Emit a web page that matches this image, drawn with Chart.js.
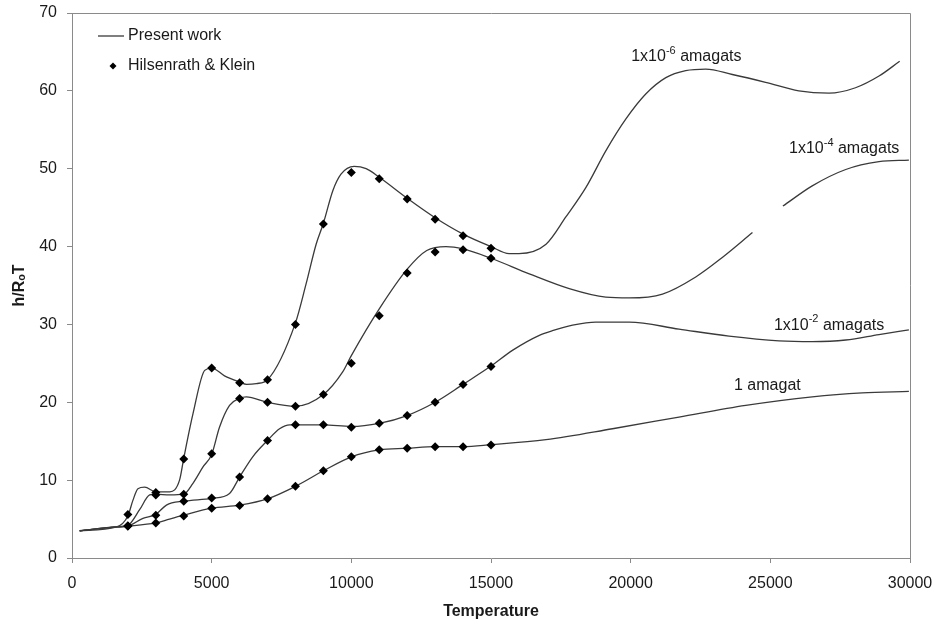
<!DOCTYPE html>
<html>
<head>
<meta charset="utf-8">
<title>h/RoT vs Temperature</title>
<script src="https://cdn.jsdelivr.net/npm/chart.js@4.4.1/dist/chart.umd.min.js"></script>
<style>
  html, body { margin: 0; padding: 0; background: #fff; }
  #chart { display: block; }
</style>
</head>
<body>
<canvas id="chart" width="938" height="625"></canvas>
<script>
// ---------------------------------------------------------
// h/RoT vs temperature – present work vs Hilsenrath & Klein
// ---------------------------------------------------------

const FONT = "'Liberation Sans', Arial, sans-serif";
const LINE_COLOR = "#3a3a3a";
const AXIS_COLOR = "#8a8a8a";
const TEXT_COLOR = "#1a1a1a";

// Hilsenrath & Klein table points (same temperatures for every density)
const hkTemps = [2000, 3000, 4000, 5000, 6000, 7000, 8000, 9000, 10000, 11000, 12000, 13000, 14000, 15000];
const hk1e6 = [5.6, 8.4, 12.7, 24.4, 22.5, 22.9, 30.0, 42.9, 49.5, 48.7, 46.1, 43.5, 41.4, 39.8];
const hk1e4 = [4.1, 8.1, 8.2, 13.4, 20.5, 20.0, 19.5, 21.0, 25.0, 31.1, 36.6, 39.3, 39.6, 38.5];
const hk1e2 = [4.1, 5.5, 7.3, 7.7, 10.4, 15.1, 17.1, 17.1, 16.8, 17.3, 18.3, 20.0, 22.3, 24.6];
const hk1 = [4.1, 4.5, 5.4, 6.4, 6.75, 7.6, 9.2, 11.2, 13.0, 13.9, 14.1, 14.3, 14.3, 14.5];

// Present work curves
const pw1e6T = [275, 1600, 2000, 2180, 2360, 2600, 3000, 3500, 3850, 4000, 4330, 4750, 5000, 5460, 6000, 6250, 6600, 7000, 8000, 8380, 8740, 9000, 9340, 9630, 10100, 10530, 11000, 12000, 13000, 14000, 15000, 15650, 16000, 16970, 17680, 18400, 19110, 19830, 20540, 21260, 21970, 22690, 23640, 24830, 26020, 27100, 28050, 28890, 29630];
const pw1e6V = [3.5, 4.0, 5.4, 7.4, 8.9, 9.1, 8.5, 8.5, 10.0, 12.8, 18.5, 24.1, 24.4, 23.4, 22.6, 22.3, 22.4, 22.9, 30.2, 35.2, 40.3, 43.0, 47.2, 49.3, 50.3, 50.0, 48.9, 46.2, 43.7, 41.6, 40.0, 39.1, 39.1, 40.3, 43.8, 47.6, 52.3, 56.4, 59.6, 61.7, 62.6, 62.8, 62.1, 61.1, 60.0, 59.7, 60.4, 61.9, 63.8];

const pw1e4T = [275, 1600, 2000, 2420, 2780, 3000, 3500, 4000, 4330, 4690, 5000, 5280, 5640, 6000, 6240, 7000, 8000, 9000, 9690, 10000, 11000, 12000, 12700, 13390, 14000, 15000, 16370, 17800, 19110, 19950, 21140, 22330, 23280, 24360, 24900, 25450, 26500, 27700, 28890, 29960];
const pw1e4V = [3.5, 4.0, 4.2, 6.2, 8.1, 8.2, 8.1, 8.2, 9.6, 11.7, 13.3, 16.8, 19.6, 20.5, 20.7, 20.0, 19.5, 21.0, 23.9, 26.0, 32.0, 37.1, 39.5, 40.0, 39.7, 38.5, 36.5, 34.6, 33.5, 33.4, 33.9, 36.1, 38.6, 41.8, null, 45.2, 47.8, 49.9, 50.9, 51.1];

const pw1e2T = [275, 1600, 2000, 2540, 3000, 3380, 4000, 5000, 5640, 6000, 6470, 7000, 7430, 7800, 8000, 9000, 10000, 11000, 12000, 13000, 14000, 15000, 15780, 16730, 17200, 17920, 18750, 19950, 21730, 23520, 25310, 26500, 27700, 28890, 29960];
const pw1e2V = [3.5, 4.0, 4.1, 5.1, 5.6, 6.8, 7.3, 7.65, 8.3, 10.4, 13.0, 15.1, 16.6, 17.1, 17.1, 17.1, 16.9, 17.3, 18.3, 20.0, 22.3, 24.65, 26.7, 28.6, 29.2, 29.9, 30.3, 30.3, 29.4, 28.5, 27.9, 27.8, 28.0, 28.7, 29.3];

const pw1T = [275, 1600, 2000, 3000, 3490, 4000, 5000, 6000, 7000, 8000, 9000, 10000, 11000, 12000, 13000, 14000, 15000, 16970, 19350, 21730, 24120, 26500, 28290, 29960];
const pw1V = [3.5, 4.0, 4.1, 4.5, 5.0, 5.5, 6.4, 6.8, 7.6, 9.2, 11.2, 13.0, 13.9, 14.1, 14.3, 14.3, 14.55, 15.2, 16.6, 18.1, 19.6, 20.7, 21.2, 21.4];

// Axis ticks
const xTicks = [0, 5000, 10000, 15000, 20000, 25000, 30000];
const yTicks = [0, 10, 20, 30, 40, 50, 60, 70];

// Curve labels: main text, superscript, rest, anchor in data units (left edge, middle)
const curveLabels = [
  { main: "1x10", sup: "-6", rest: " amagats", x: 20020, y: 64.4 },
  { main: "1x10", sup: "-4", rest: " amagats", x: 25670, y: 52.6 },
  { main: "1x10", sup: "-2", rest: " amagats", x: 25130, y: 29.9 },
  { main: "1 amagat", sup: "", rest: "", x: 23700, y: 22.2 }
];

function zip(xs, ys) {
  return xs.map((x, i) => ({ x: x, y: ys[i] }));
}

function lineSet(xs, ys) {
  return {
    type: "line",
    label: "Present work",
    data: zip(xs, ys),
    borderColor: LINE_COLOR,
    borderWidth: 1.3,
    pointRadius: 0,
    fill: false,
    cubicInterpolationMode: "monotone",
    spanGaps: false,
    order: 1
  };
}

function markerSet(ys) {
  return {
    type: "scatter",
    label: "Hilsenrath & Klein",
    data: zip(hkTemps, ys),
    pointStyle: "rectRot",
    pointRadius: 4.5,
    backgroundColor: "#000",
    borderColor: "#000",
    borderWidth: 0,
    showLine: false,
    order: 0
  };
}

// Frame, legend and curve labels
const decorPlugin = {
  id: "decor",
  afterDraw(chart) {
    const { ctx, chartArea: a, scales } = chart;
    ctx.save();

    // top and right edge of plot frame
    ctx.strokeStyle = AXIS_COLOR;
    ctx.lineWidth = 1;
    ctx.beginPath();
    ctx.moveTo(a.left, a.top + 0.5);
    ctx.lineTo(a.right + 0.5, a.top + 0.5);
    ctx.lineTo(a.right + 0.5, a.bottom);
    ctx.stroke();

    // legend
    ctx.font = `16px ${FONT}`;
    ctx.fillStyle = TEXT_COLOR;
    ctx.textBaseline = "middle";
    ctx.textAlign = "left";
    const lx = a.left + 26, ly1 = a.top + 23, ly2 = a.top + 53;
    ctx.strokeStyle = LINE_COLOR;
    ctx.lineWidth = 1.3;
    ctx.beginPath();
    ctx.moveTo(lx, ly1);
    ctx.lineTo(lx + 26, ly1);
    ctx.stroke();
    ctx.fillText(chart.data.datasets[4].label, lx + 30, ly1);
    ctx.fillStyle = "#000";
    ctx.beginPath();
    ctx.moveTo(lx + 15 - 3.5, ly2);
    ctx.lineTo(lx + 15, ly2 - 3.5);
    ctx.lineTo(lx + 15 + 3.5, ly2);
    ctx.lineTo(lx + 15, ly2 + 3.5);
    ctx.closePath();
    ctx.fill();
    ctx.fillStyle = TEXT_COLOR;
    ctx.fillText(chart.data.datasets[0].label, lx + 30, ly2);

    // curve labels
    curveLabels.forEach(l => {
      let px = scales.x.getPixelForValue(l.x);
      const py = scales.y.getPixelForValue(l.y);
      ctx.font = `16px ${FONT}`;
      ctx.fillText(l.main, px, py);
      px += ctx.measureText(l.main).width;
      if (l.sup) {
        ctx.font = `11px ${FONT}`;
        ctx.fillText(l.sup, px, py - 6);
        px += ctx.measureText(l.sup).width;
      }
      if (l.rest) {
        ctx.font = `16px ${FONT}`;
        ctx.fillText(l.rest, px, py);
      }
    });

    ctx.restore();
  }
};

window.addEventListener("DOMContentLoaded", () => {
  const canvas = document.getElementById("chart");
  new Chart(canvas.getContext("2d"), {
    data: {
      datasets: [
        markerSet(hk1e6),
        markerSet(hk1e4),
        markerSet(hk1e2),
        markerSet(hk1),
        lineSet(pw1e6T, pw1e6V),
        lineSet(pw1e4T, pw1e4V),
        lineSet(pw1e2T, pw1e2V),
        lineSet(pw1T, pw1V)
      ]
    },
    options: {
      responsive: false,
      animation: false,
      devicePixelRatio: 1,
      layout: { padding: { top: 13, right: 28, left: 0, bottom: 0 } },
      plugins: { legend: { display: false }, tooltip: { enabled: false } },
      scales: {
        x: {
          type: "linear",
          min: xTicks[0],
          max: xTicks[xTicks.length - 1],
          afterFit: s => { s.height = 67; s.paddingLeft = 0; s.paddingRight = 0; },
          afterBuildTicks: s => { s.ticks = xTicks.map(v => ({ value: v })); },
          ticks: { color: TEXT_COLOR, font: { family: FONT, size: 16 }, padding: 11, maxRotation: 0, callback: v => String(v) },
          grid: { drawOnChartArea: false, drawTicks: true, tickLength: 5, color: AXIS_COLOR },
          border: { display: true, color: AXIS_COLOR },
          title: { display: true, text: "Temperature", color: TEXT_COLOR, font: { family: FONT, size: 16, weight: "bold" }, padding: { top: 0, bottom: 4 } }
        },
        y: {
          type: "linear",
          min: yTicks[0],
          max: yTicks[yTicks.length - 1],
          afterFit: s => { s.width = 72; s.paddingTop = 0; s.paddingBottom = 0; },
          afterBuildTicks: s => { s.ticks = yTicks.map(v => ({ value: v })); },
          ticks: { color: TEXT_COLOR, font: { family: FONT, size: 16 }, padding: 10, callback: v => String(v) },
          grid: { drawOnChartArea: false, drawTicks: true, tickLength: 5, color: AXIS_COLOR },
          border: { display: true, color: AXIS_COLOR },
          title: { display: true, text: "h/R\u2092T", color: TEXT_COLOR, font: { family: FONT, size: 16, weight: "bold" }, padding: { top: 10, bottom: 0 } }
        }
      }
    },
    plugins: [decorPlugin]
  });
});
</script>
</body>
</html>
